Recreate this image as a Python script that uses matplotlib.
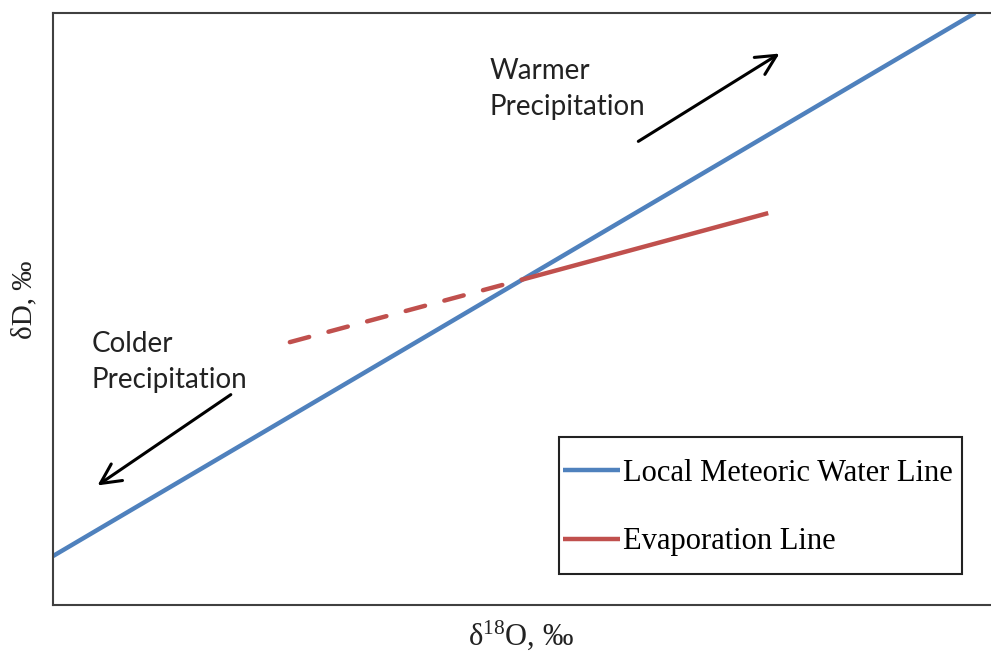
import matplotlib

matplotlib.use("Agg")
import matplotlib.pyplot as plt
from matplotlib.patches import Rectangle

# isotope-space sketch: delta-18O vs delta-D, arbitrary per-mil units
lmwl_x = [-20.0, -0.34]
lmwl_y = [-137.6, 0.0]
evap_x = [-10.04, -4.75]
evap_y = [-67.7, -50.7]
evap_ext_x = [-14.95, -10.04]
evap_ext_y = [-83.4, -67.7]

warm_tail, warm_head = (-7.57, -32.9), (-4.46, -9.9)
cold_tail, cold_head = (-16.16, -96.3), (-19.1, -120.1)

BLUE = "#4F81BD"
RED = "#C0504D"
W, H = 991, 652

fig = plt.figure(figsize=(W / 100, H / 100), dpi=100)
ax = fig.add_axes([53 / W, 1 - 605 / H, 1 - 53 / W, 592 / H])
ax.set_xlim(-20, 0)
ax.set_ylim(-150, 0)
ax.set_xticks([])
ax.set_yticks([])
for side in ("left", "top", "bottom"):
    ax.spines[side].set_color("#404040")
    ax.spines[side].set_linewidth(1.5)
ax.spines["right"].set_visible(False)

lmwl, = ax.plot(lmwl_x, lmwl_y, color=BLUE, lw=3.2, solid_capstyle="butt")
evap, = ax.plot(evap_x, evap_y, color=RED, lw=3.2, solid_capstyle="butt")
ax.plot(evap_ext_x, evap_ext_y, color=RED, lw=3.2, dashes=(4.5, 4.5),
        dash_capstyle="round")

arrow = dict(arrowstyle="->", lw=2.2, color="black", mutation_scale=36)
ax.annotate("", xy=warm_head, xytext=warm_tail, arrowprops=arrow)
ax.annotate("", xy=cold_head, xytext=cold_tail, arrowprops=arrow)

txt = dict(fontsize=20, family="Lato", color="#222222", va="top",
           linespacing=1.5)
fig.text(490 / W, 1 - 58 / H, "Warmer\nPrecipitation", **txt)
fig.text(92 / W, 1 - 331 / H, "Colder\nPrecipitation", **txt)

serif = dict(family="Liberation Serif", color="#222222")
fig.text(521 / W, 1 - 635 / H, "δ$\\mathregular{^{18}}$O, ‰", ha="center",
         va="center", fontsize=22, **serif)
fig.text(24 / W, 1 - 300 / H, "δD, ‰", rotation=90, ha="center",
         va="center", fontsize=21, **serif)

# legend frame drawn separately so the insets can differ per side
fig.patches.append(Rectangle((559 / W, 1 - 574 / H), 403 / W, 137 / H,
                             transform=fig.transFigure, fill=False,
                             edgecolor="#222222", lw=1.5))
ax.legend([lmwl, evap], ["Local Meteoric Water Line", "Evaporation Line"],
          loc="upper left", bbox_to_anchor=(563 / W, 1 - 459 / H),
          bbox_transform=fig.transFigure, frameon=False, borderpad=0,
          borderaxespad=0, handlelength=1.86, handletextpad=0.1,
          labelspacing=1.29, prop={"family": "Liberation Serif", "size": 22})

fig.savefig("out.png", dpi=100)
